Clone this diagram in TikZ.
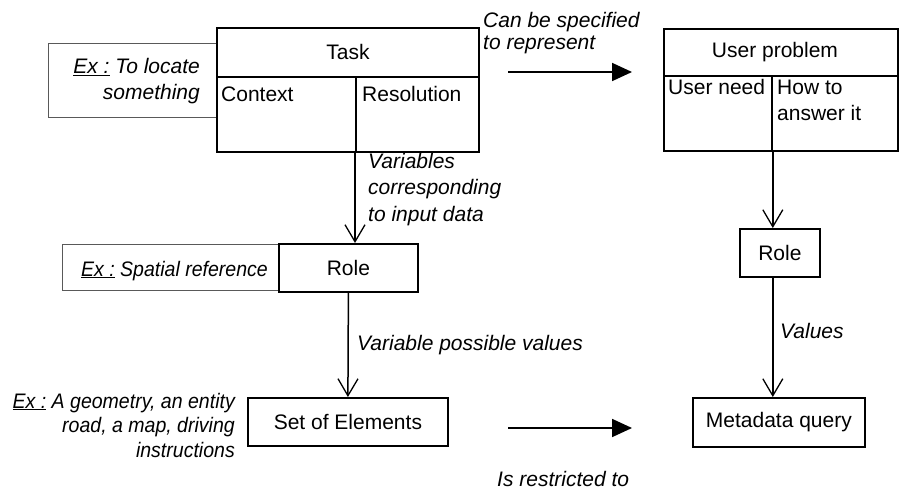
\documentclass[tikz,border=0pt]{standalone}
\usepackage{fontspec}
\usepackage{graphicx}
\setmainfont{Liberation Sans}
\usetikzlibrary{arrows.meta}
\newcommand{\narrowtext}[1]{\scalebox{0.93}[1]{#1}}
\begin{document}
\begin{tikzpicture}[x=1pt,y=-1pt,
  font=\fontsize{21}{25}\selectfont,
  box/.style={draw, line width=1.8pt, inner sep=0pt, anchor=north west},
  exbox/.style={draw=black!65, line width=1pt, inner sep=0pt, anchor=north west},
  txt/.style={inner sep=0pt, anchor=base west},
  rtxt/.style={inner sep=0pt, anchor=base east, font=\fontsize{21}{25}\selectfont\itshape},
  lbl/.style={inner sep=0pt, anchor=base west, font=\fontsize{21}{25}\selectfont\itshape},
  openarrow/.style={line width=1.5pt, -{Straight Barb[length=17pt,width=20pt,line width=1.3pt]}},
  fillarrow/.style={line width=1.8pt, -{Triangle[length=20pt,width=18pt]}},
]
\useasboundingbox (0,0) rectangle (899,489);

% example boxes (drawn first, main boxes overlap their edges)
\node[exbox, minimum width=168pt, minimum height=74pt] (ex1) at (48,43) {};
\node[exbox, minimum width=216pt, minimum height=46pt] (ex2) at (62,244) {};

% Task
\node[box, minimum width=262pt, minimum height=49pt] (taskhd) at (216,27) {};
\node[box, minimum width=139pt, minimum height=75pt] (ctx) at (216,76) {};
\node[box, minimum width=123pt, minimum height=75pt] (res) at (355,76) {};
\node[inner sep=0pt] (tasklbl) at (taskhd.center) {Task};
\node[txt] (ctxlbl) at (221,102) {Context};
\node[txt] (reslbl) at (362,102) {Resolution};

\node[rtxt] (ex1a) at (200,74) {\underline{Ex :} To locate};
\node[rtxt] (ex1b) at (200,100) {something};

% User problem
\node[box, minimum width=234pt, minimum height=47pt] (userhd) at (663,28) {};
\node[box, minimum width=108pt, minimum height=75pt] (need) at (663,75) {};
\node[box, minimum width=126pt, minimum height=75pt] (how) at (771,75) {};
\node[inner sep=0pt] (userlbl) at (775,52) {User problem};
\node[txt] (needlbl) at (668,95) {User need};
\node[txt] (howa) at (777,95) {How to};
\node[txt] (howb) at (777,121) {answer it};

% Roles
\node[box, minimum width=139pt, minimum height=48pt] (role1) at (278,243) {Role};
\node[box, minimum width=80pt, minimum height=48pt] (role2) at (739,228) {Role};
\node[rtxt] (ex2a) at (268,276) {\narrowtext{\underline{Ex :} Spatial reference}};

% Bottom row
\node[box, minimum width=200pt, minimum height=48pt] (set) at (247,397) {Set of Elements};
\node[box, minimum width=172pt, minimum height=49pt] (meta) at (692,397) {Metadata query};
\node[rtxt] (ex3a) at (235,408) {\narrowtext{\underline{Ex :} A geometry, an entity}};
\node[rtxt] (ex3b) at (235,432) {\narrowtext{road, a map, driving}};
\node[rtxt] (ex3c) at (235,457) {\narrowtext{instructions}};

% vertical connectors
\draw[openarrow] (res.south west) -- (role1.north -| res.south west);
\draw[openarrow] (role1.south) -- (set.north);
\draw[openarrow] (need.south east) -- (role2.north -| need.south east);
\draw[openarrow] (role2.south -| need.south east) -- (meta.north -| need.south east);

% horizontal correspondences
\coordinate (toparrowA) at (508,72);
\coordinate (toparrowB) at (632,72);
\coordinate (botarrowA) at (508,428);
\coordinate (botarrowB) at (632,428);
\draw[fillarrow] (toparrowA) -- (toparrowB);
\draw[fillarrow] (botarrowA) -- (botarrowB);

% connector labels
\node[lbl] (specA) at (483,28) {Can be specified};
\node[lbl] (specB) at (483,50) {to represent};
\node[lbl] (varA) at (368,169) {Variables};
\node[lbl] (varB) at (368,195) {corresponding};
\node[lbl] (varC) at (368,222) {to input data};
\node[lbl] (possible) at (357,350) {Variable possible values};
\node[lbl] (values) at (780,338) {Values};
\node[lbl] (restricted) at (497,486) {Is restricted to};
\end{tikzpicture}
\end{document}
